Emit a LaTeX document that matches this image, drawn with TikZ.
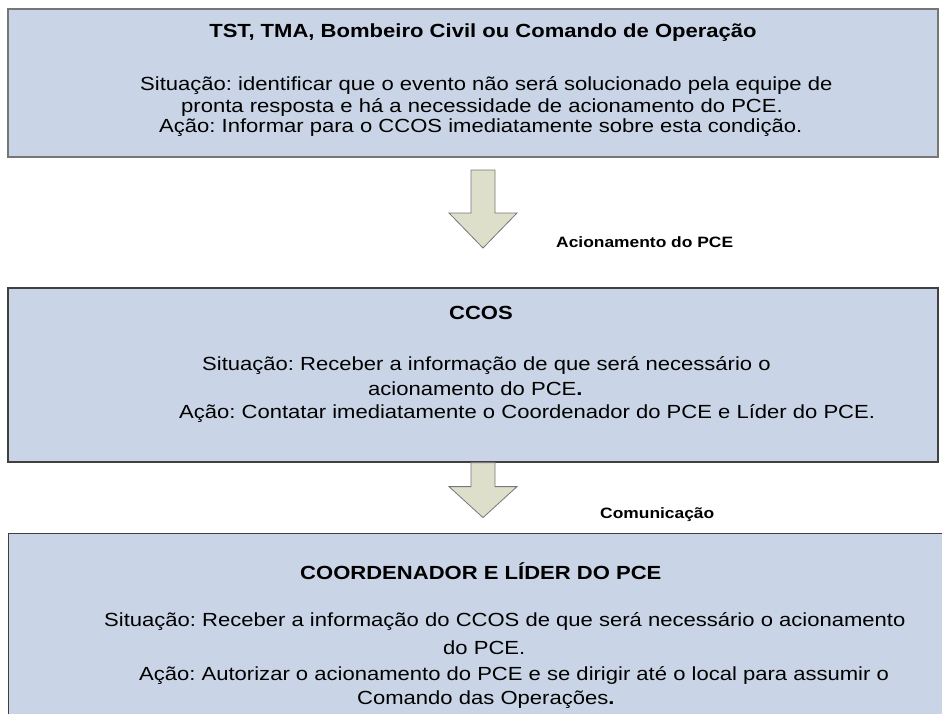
\documentclass[tikz,border=0pt]{standalone}
\usepackage{fontspec}
\setmainfont{Liberation Sans}[FakeStretch=1.16]
\frenchspacing
\usepackage{tikz}
\usetikzlibrary{positioning,calc}
\definecolor{panelfill}{HTML}{C9D5E6}
\definecolor{paneldraw}{HTML}{404040}
\definecolor{panellight}{HTML}{767676}
\definecolor{arrowfill}{HTML}{DDDFCB}
\definecolor{arrowdraw}{HTML}{777777}
\tikzset{
    panel/.style={rectangle, draw=paneldraw, fill=panelfill, line width=1.2pt, inner sep=0pt},
    headline/.style={font=\fontsize{19}{20}\selectfont\bfseries, inner sep=0pt},
    bodyline/.style={font=\fontsize{19}{20}\selectfont, anchor=west, inner sep=0pt},
    steplabel/.style={font=\fontsize{15}{17}\selectfont\bfseries, anchor=west, inner sep=0pt},
    blockarrow/.style={draw=arrowdraw, fill=arrowfill, line width=0.8pt, line join=miter},
}

\begin{document}
\begin{tikzpicture}
        [x=1pt, y=-1pt]
        \useasboundingbox (0,0) rectangle (942,713);

        % Panels
        \node[panel, draw=panellight, minimum width=930pt, minimum height=148pt] (tst) at (473,83) {};
        \node[panel, minimum width=930pt, minimum height=174pt] (ccos) at (473,375) {};
        \node[panel, anchor=north west, minimum width=960pt, minimum height=220pt] (coord) at (8,533) {};

        % Texts of the first panel
        \node[headline] (tsttitle) at (483,33) {TST, TMA, Bombeiro Civil ou Comando de Operação};
        \node[bodyline] (tsta) at (140,86) {Situação: identificar que o evento não será solucionado pela equipe de};
        \node[bodyline] (tstb) at (181,107) {pronta resposta e há a necessidade de acionamento do PCE.};
        \node[bodyline] (tstc) at (159,128) {Ação: Informar para o CCOS imediatamente sobre esta condição.};

        % Texts of the second panel
        \node[headline] (ccostitle) at (481,313) {CCOS};
        \node[bodyline] (ccosa) at (202,366) {Situação: Receber a informação de que será necessário o};
        \node[bodyline] (ccosb) at (368,389) {acionamento do PCE\textbf{.}};
        \node[bodyline] (ccosc) at (179,414) {Ação: Contatar imediatamente o Coordenador do PCE e Líder do PCE.};

        % Texts of the third panel
        \node[headline, anchor=west] (coordtitle) at (300,571) {COORDENADOR E LÍDER DO PCE};
        \node[bodyline] (coorda) at (104,622) {Situação: Receber a informação do CCOS de que será necessário o acionamento};
        \node[bodyline] (coordb) at (443,648) {do PCE.};
        \node[bodyline] (coordc) at (139,676) {Ação: Autorizar o acionamento do PCE e se dirigir até o local para assumir o};
        \node[bodyline] (coordd) at (357,700) {Comando das Operações\textbf{.}};

        % Block arrows between the panels
        \coordinate (downa) at (483,170);
        \draw[blockarrow] ($(downa)+(-12,0)$) -- ++(24,0) -- ++(0,43) -- ++(22,0)
            -- ($(downa)+(0,78)$) -- ($(downa)+(-34,43)$) -- ++(22,0) -- cycle;
        \coordinate (downb) at (ccos.south -| downa);
        \draw[blockarrow] ($(downb)+(-12,0)$) -- ++(24,0) -- ++(0,24) -- ++(22,0)
            -- ($(downb)+(0,55)$) -- ($(downb)+(-34,24)$) -- ++(22,0) -- cycle;

        % Labels of the arrows
        \node[steplabel] (acion) at (556,242) {Acionamento do PCE};
        \node[steplabel] (comun) at (600,515) {Comunicação};
    \end{tikzpicture}
\end{document}
